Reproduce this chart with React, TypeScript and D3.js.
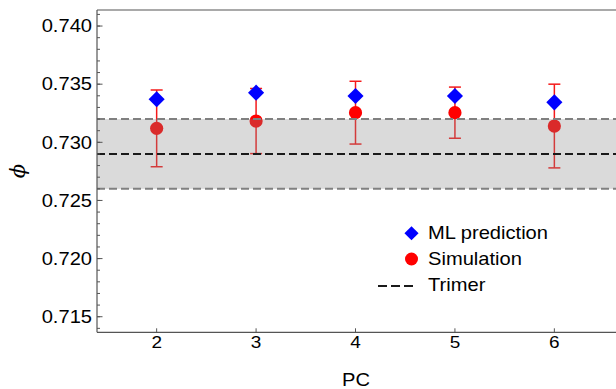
import React, { useEffect, useRef } from "react";
import * as d3 from "d3";

const pcs = [2, 3, 4, 5, 6];
const mlPrediction = [0.7337, 0.73427, 0.73398, 0.73398, 0.73344];
const simulation = [0.7312, 0.73183, 0.73255, 0.73255, 0.7314];
const simError = [0.0033, 0.0028, 0.0027, 0.0022, 0.0036];
const trimer = { mean: 0.729, low: 0.726, high: 0.732 };
const yTicks = [0.715, 0.72, 0.725, 0.73, 0.735, 0.74];
const legendLabels = ["ML prediction", "Simulation", "Trimer"];

const App = () => {
  const svgRef = useRef<SVGSVGElement>(null);

  useEffect(() => {
    const width = 616;
    const height = 389;
    const left = 97, right = 616, top = 10, bottom = 332.3;
    const font = "'Liberation Sans', Arial, sans-serif";
    const sx = 1.15;

    const svg = d3.select(svgRef.current);
    svg.selectAll("*").remove();
    svg.attr("width", width).attr("height", height);

    const x = d3.scaleLinear().domain([1.4, 6.62]).range([left, right]);
    const y = d3.scaleLinear().domain([0.71366, 0.74138]).range([bottom, top]);

    const stretchedText = (px, py, str, anchor, size = 17) => {
      svg.append("g")
        .attr("transform", `translate(${px},${py}) scale(${sx},1)`)
        .append("text")
        .attr("text-anchor", anchor)
        .attr("font-family", font)
        .attr("font-size", size)
        .attr("fill", "#000")
        .text(str);
    };

    const data = pcs.map((pc, i) => ({
      pc, ml: mlPrediction[i], sim: simulation[i], err: simError[i],
    }));

    // error bars
    const eb = svg.append("g").attr("stroke", "#f51a1a").attr("stroke-width", 1.5);
    data.forEach(d => {
      const cx = x(d.pc);
      eb.append("line").attr("x1", cx).attr("x2", cx)
        .attr("y1", y(d.sim + d.err)).attr("y2", y(d.sim - d.err));
      [d.sim + d.err, d.sim - d.err].forEach(v => {
        eb.append("line").attr("x1", cx - 6).attr("x2", cx + 6)
          .attr("y1", y(v)).attr("y2", y(v));
      });
    });

    svg.append("g").selectAll("circle").data(data).enter().append("circle")
      .attr("cx", d => x(d.pc)).attr("cy", d => y(d.sim))
      .attr("r", 6.6).attr("fill", "#ff0000");

    const diamond = d3.symbol().type(d3.symbolSquare).size(130);
    svg.append("g").selectAll("path").data(data).enter().append("path")
      .attr("d", diamond)
      .attr("transform", d => `translate(${x(d.pc)},${y(d.ml)}) rotate(45)`)
      .attr("fill", "#0000ff");

    // trimer band drawn over points, semi-transparent
    svg.append("rect")
      .attr("x", left).attr("width", right - left)
      .attr("y", y(trimer.high)).attr("height", y(trimer.low) - y(trimer.high))
      .attr("fill", "#868686").attr("fill-opacity", 0.31);

    [
      { v: trimer.high, c: "#808080" },
      { v: trimer.low, c: "#808080" },
      { v: trimer.mean, c: "#1a1a1a" },
    ].forEach(l => {
      svg.append("line")
        .attr("x1", left).attr("x2", right)
        .attr("y1", y(l.v)).attr("y2", y(l.v))
        .attr("stroke", l.c).attr("stroke-width", 2)
        .attr("stroke-dasharray", "8 4");
    });

    // frame / axes
    const axisColor = "#555";
    svg.append("line").attr("x1", left).attr("x2", right).attr("y1", top).attr("y2", top)
      .attr("stroke", axisColor).attr("stroke-width", 1.2);
    svg.append("line").attr("x1", left).attr("x2", right).attr("y1", bottom).attr("y2", bottom)
      .attr("stroke", axisColor).attr("stroke-width", 1.2);
    svg.append("line").attr("x1", left).attr("x2", left).attr("y1", top).attr("y2", bottom)
      .attr("stroke", axisColor).attr("stroke-width", 1.2);

    const minor = d3.range(0.714, 0.7415, 0.001);
    minor.forEach(v => {
      svg.append("line").attr("x1", left).attr("x2", left + 3)
        .attr("y1", y(v)).attr("y2", y(v))
        .attr("stroke", axisColor).attr("stroke-width", 1);
    });
    yTicks.forEach(v => {
      svg.append("line").attr("x1", left).attr("x2", left + 5.5)
        .attr("y1", y(v)).attr("y2", y(v))
        .attr("stroke", axisColor).attr("stroke-width", 1);
      stretchedText(92, y(v) + 6.2, d3.format(".3f")(v), "end", 17.5);
    });

    pcs.forEach(pc => {
      svg.append("line").attr("x1", x(pc)).attr("x2", x(pc))
        .attr("y1", bottom).attr("y2", bottom - 4)
        .attr("stroke", axisColor).attr("stroke-width", 1);
      stretchedText(x(pc), 347.5, String(pc), "middle", 16.5);
    });

    stretchedText(356, 385.5, "PC", "middle", 17.5);

    svg.append("text")
      .attr("transform", "translate(25,171) rotate(-90)")
      .attr("text-anchor", "middle")
      .attr("font-family", "'DejaVu Serif', serif")
      .attr("font-style", "italic")
      .attr("font-size", 21)
      .text("\u03D5");

    // legend
    const lx = 411.5;
    svg.append("path").attr("d", d3.symbol().type(d3.symbolSquare).size(100))
      .attr("transform", `translate(${lx},233.3) rotate(45)`).attr("fill", "#0000ff");
    svg.append("circle").attr("cx", lx).attr("cy", 259).attr("r", 6.5).attr("fill", "#ff0000");
    svg.append("line").attr("x1", 378).attr("x2", 415).attr("y1", 286).attr("y2", 286)
      .attr("stroke", "#1a1a1a").attr("stroke-width", 2.2).attr("stroke-dasharray", "9 4");
    const ly = [239.3, 265, 291];
    legendLabels.forEach((t, i) => stretchedText(428, ly[i], t, "start", 17.5));
  }, []);

  return (
    <svg ref={svgRef} style={{ position: "absolute", left: 0, top: 0 }}></svg>
  );
};

export default App;
